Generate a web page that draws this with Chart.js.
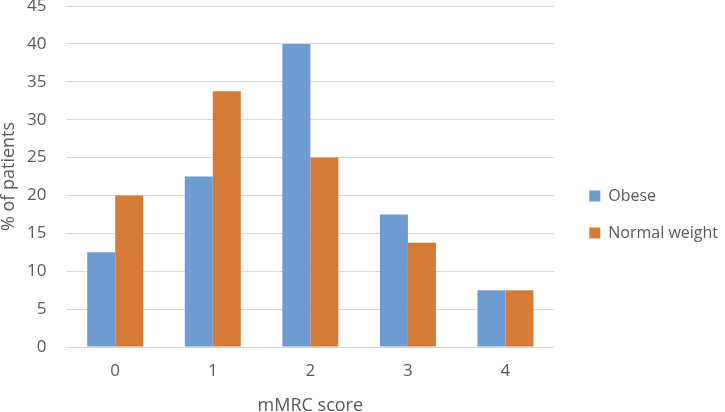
<!DOCTYPE html>
<html>
<head>
<meta charset="utf-8">
<script src="https://cdn.jsdelivr.net/npm/chart.js@4"></script>
<style>
  html, body { margin: 0; padding: 0; background: #fff; }
  #wrap { width: 725px; height: 412px; }
</style>
</head>
<body>
<div id="wrap"><canvas id="myChart" width="725" height="412"></canvas></div>
<script>
const categories = ["0", "1", "2", "3", "4"];
const obese = [12.5, 22.5, 40, 17.5, 7.5];
const normalWeight = [20, 33.75, 25, 13.75, 7.5];
const yTicks = [0, 5, 10, 15, 20, 25, 30, 35, 40, 45];

const textColor = '#595959';
const fontFamily = '"Open Sans", "Liberation Sans", sans-serif';

// nudge the legend to where Excel puts it
const legendShift = {
    id: 'legendShift',
    afterLayout(chart) {
        const lg = chart.legend;
        lg.left += 14; lg.right += 14;
        lg.top += 3; lg.bottom += 3;
    }
};

const ctx = document.getElementById('myChart').getContext('2d');
const chart = new Chart(ctx, {
    type: 'bar',
    data: {
        labels: categories,
        datasets: [{
            label: 'Obese',
            data: obese,
            backgroundColor: '#6E9BD2',
            borderWidth: 0
        }, {
            label: 'Normal weight',
            data: normalWeight,
            backgroundColor: '#D57A37',
            borderWidth: 0
        }]
    },
    options: {
        responsive: false,
        animation: false,
        layout: {
            autoPadding: false,
            padding: { top: 6, right: 11, bottom: -5, left: 0 }
        },
        datasets: {
            bar: { categoryPercentage: 0.574, barPercentage: 1 }
        },
        plugins: {
            tooltip: { enabled: false },
            legend: {
                position: 'right',
                labels: {
                    boxWidth: 11,
                    boxHeight: 11,
                    padding: 21,
                    color: textColor,
                    font: { family: fontFamily, size: 16 }
                }
            }
        },
        scales: {
            x: {
                grid: { display: false, drawTicks: false },
                border: { display: true, color: '#d9d9d9', width: 1 },
                ticks: {
                    color: textColor,
                    padding: 14,
                    font: { family: fontFamily, size: 17 }
                },
                title: {
                    display: true,
                    text: 'mMRC score',
                    color: textColor,
                    padding: { top: 0, bottom: 0 },
                    font: { family: fontFamily, size: 18 }
                }
            },
            y: {
                min: 0,
                max: 45,
                afterBuildTicks(axis) {
                    axis.ticks = yTicks.map(v => ({ value: v }));
                },
                grid: {
                    color: '#d9d9d9',
                    lineWidth: 1,
                    drawTicks: true,
                    tickLength: 20,
                    tickColor: 'rgba(0,0,0,0)'
                },
                border: { display: false },
                ticks: {
                    color: textColor,
                    padding: 0,
                    font: { family: fontFamily, size: 17, lineHeight: 0.6 }
                },
                title: {
                    display: true,
                    text: '% of patients',
                    color: textColor,
                    padding: { top: 0, bottom: 9 },
                    font: { family: fontFamily, size: 18, lineHeight: 1 }
                }
            }
        }
    },
    plugins: [legendShift]
});
</script>
</body>
</html>
